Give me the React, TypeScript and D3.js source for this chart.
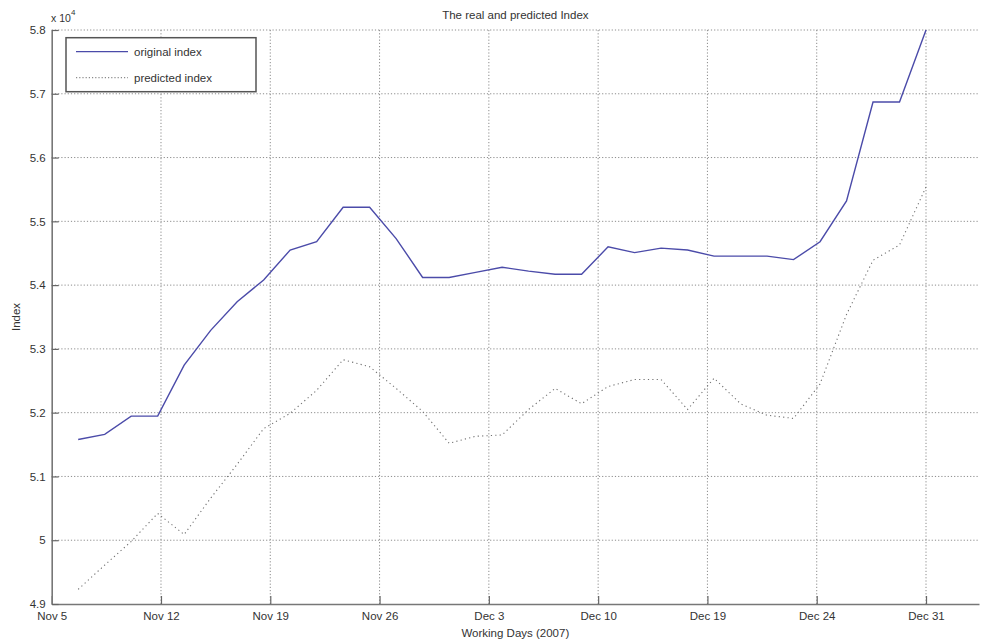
import * as React from "react";
import * as d3 from "d3";

// working-day index (1..33) -> index value
const original = [
  51580, 51660, 51945, 51945, 52745, 53290, 53740, 54080, 54550, 54680, 55220,
  55220, 54730, 54120, 54120, 54200, 54280, 54220, 54170, 54170, 54600, 54510,
  54580, 54550, 54455, 54455, 54455, 54400, 54680, 55320, 56870, 56870, 58000,
];
const predicted = [
  49230, 49610, 49980, 50420, 50090, 50660, 51190, 51750, 51990, 52350, 52830,
  52720, 52380, 52020, 51520, 51630, 51650, 52050, 52380, 52140, 52410, 52520,
  52520, 52050, 52540, 52140, 51960, 51910, 52450, 53540, 54390, 54630, 55540,
];
const xLabels = ["Nov 5", "Nov 12", "Nov 19", "Nov 26", "Dec 3", "Dec 10", "Dec 19", "Dec 24", "Dec 31"];
const yTicks = [49000, 50000, 51000, 52000, 53000, 54000, 55000, 56000, 57000, 58000];

const W = 984;
const H = 644;
const FONT = "'Liberation Sans', Arial, sans-serif";

function drawChart(svgEl: SVGSVGElement) {
  const svg = d3.select(svgEl);
  svg.selectAll("*").remove();

  const left = 51.7, right = 979, top = 30, bottom = 604;
  const n = original.length;
  const x = d3.scaleLinear().domain([0, 35]).range([left, right]);
  const y = d3.scaleLinear().domain([49000, 58000]).range([bottom, top]);
  const xTicks = xLabels.map((_, i) => (i * n) / 8);

  // grid
  const grid = svg.append("g").attr("stroke", "#8c8c8c").attr("stroke-width", 1).attr("stroke-dasharray", "1.2,2");
  grid.selectAll("line.h").data(yTicks.slice(1)).enter().append("line")
    .attr("x1", left).attr("x2", right)
    .attr("y1", (d) => y(d)).attr("y2", (d) => y(d));
  grid.selectAll("line.v").data(xTicks.slice(1)).enter().append("line")
    .attr("x1", (d) => x(d)).attr("x2", (d) => x(d))
    .attr("y1", top).attr("y2", bottom);

  // axes
  const xAxis = svg.append("g").attr("transform", `translate(0,${bottom})`)
    .call(d3.axisBottom(x).tickValues(xTicks).tickFormat((_, i) => xLabels[i]).tickSizeInner(-8).tickSizeOuter(0).tickPadding(8));
  const yAxis = svg.append("g").attr("transform", `translate(${left},0)`)
    .call(d3.axisLeft(y).tickValues(yTicks).tickFormat((d) => String(+(+d / 1e4).toFixed(1))).tickSizeInner(-7).tickSizeOuter(0).tickPadding(6));
  [xAxis, yAxis].forEach((a) => {
    a.select(".domain").attr("stroke", "#777").attr("stroke-width", 1.6);
    a.selectAll(".tick line").attr("stroke", "#666").attr("stroke-width", 1.2);
    a.selectAll("text").attr("fill", "#333").style("font-family", FONT).style("font-size", "11.5px");
  });

  // lines
  const line = (vals: number[]) =>
    d3.line<number>().x((_, i) => x(i + 1)).y((d) => y(d))(vals);

  svg.append("path").attr("d", line(predicted)).attr("fill", "none")
    .attr("stroke", "#707070").attr("stroke-width", 1.1).attr("stroke-dasharray", "1.2,3.2");
  svg.append("path").attr("d", line(original)).attr("fill", "none")
    .attr("stroke", "#4b4ba9").attr("stroke-width", 1.4);

  // legend
  const lg = svg.append("g");
  lg.append("rect").attr("x", 66).attr("y", 37.7).attr("width", 190).attr("height", 54)
    .attr("fill", "#fff").attr("stroke", "#555").attr("stroke-width", 1.5);
  const items = [
    { label: "original index", color: "#4b4ba9", dash: null, yy: 51.7 },
    { label: "predicted index", color: "#8a8a8a", dash: "1.2,2", yy: 77.7 },
  ];
  items.forEach((it) => {
    lg.append("line").attr("x1", 76).attr("x2", 128).attr("y1", it.yy).attr("y2", it.yy)
      .attr("stroke", it.color).attr("stroke-width", 1.3).attr("stroke-dasharray", it.dash);
    lg.append("text").attr("x", 134).attr("y", it.yy + 4).text(it.label)
      .attr("fill", "#333").style("font-family", FONT).style("font-size", "11.5px");
  });

  // texts
  const txt = (t: string, tx: number, ty: number, anchor = "middle", size = 11.5) =>
    svg.append("text").attr("x", tx).attr("y", ty).attr("text-anchor", anchor)
      .attr("fill", "#333").style("font-family", FONT).style("font-size", `${size}px`).text(t);

  txt("The real and predicted Index", (left + right) / 2, 19);
  txt("Working Days (2007)", (left + right) / 2, 637);
  txt("x 10", 51, 22, "start", 10.5);
  txt("4", 71, 15, "start", 8);
  svg.append("text").attr("transform", `translate(20,${(top + bottom) / 2}) rotate(-90)`)
    .attr("text-anchor", "middle").attr("fill", "#333")
    .style("font-family", FONT).style("font-size", "11.5px").text("Index");
}

const App = () => {
  const ref = React.useRef<SVGSVGElement>(null);
  React.useEffect(() => {
    if (ref.current) drawChart(ref.current);
  }, []);
  return (
    <svg ref={ref} width={W} height={H}
      style={{ position: "absolute", left: 0, top: 0, background: "#fff" }} />
  );
};

export default App;
